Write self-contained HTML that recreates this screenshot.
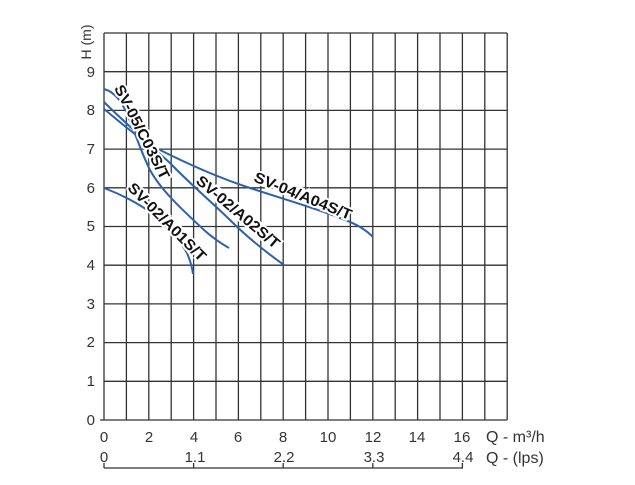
<!DOCTYPE html>
<html><head><meta charset="utf-8"><style>body{margin:0;background:#fff}svg{display:block}</style></head>
<body>
<svg width="635" height="485" xmlns="http://www.w3.org/2000/svg" font-family="Liberation Sans, sans-serif">
<rect width="635" height="485" fill="#fff"/>
<g stroke="#333" stroke-width="1.3" fill="none">
<path d="M104,33V420M126.4,33V420M148.8,33V420M171.2,33V420M193.6,33V420M216,33V420M238.4,33V420M260.8,33V420M283.2,33V420M305.6,33V420M328,33V420M350.4,33V420M372.8,33V420M395.2,33V420M417.6,33V420M440,33V420M462.4,33V420M484.8,33V420M507.2,33V420"/>
<path d="M104,33H507.2M104,71.7H507.2M104,110.4H507.2M104,149.1H507.2M104,187.8H507.2M104,226.5H507.2M104,265.2H507.2M104,303.9H507.2M104,342.6H507.2M104,381.3H507.2M100,420H507.2"/>
<path d="M104,468H463M104,463V468M193.6,463V468M283.2,463V468M372.8,463V468M462.4,463V468"/>
</g>
<g stroke="#2a62b0" stroke-width="2" fill="none">
<path d="M104,89 C115,92 122,102 128,116 C136,135 141,152 150,170 C162,192 185,212 204,230 C214,239 222,244 229,248"/>
<path d="M104,102 C120,118 150,145 170,163 C190,184 215,205 230,220 C250,240 270,255 284,265"/>
<path d="M104,109 C120,122 140,140 160,150 C190,165 220,178 247,187 C280,198 315,208 340,218 C357,224 366,230 373,237"/>
<path d="M104,188 C120,194 140,204 157,217 C170,229 182,244 187,253 C190,260 192,266 193,274"/>
</g>
<g font-weight="bold" font-size="15" fill="#111" stroke="#fff" stroke-width="4" paint-order="stroke" text-anchor="middle" lengthAdjust="spacingAndGlyphs">
<text transform="translate(142,132) rotate(63)" dy="5" textLength="104" lengthAdjust="spacingAndGlyphs">SV-05/C03S/T</text>
<text transform="translate(238,212) rotate(40)" dy="5" textLength="104" lengthAdjust="spacingAndGlyphs">SV-02/A02S/T</text>
<text transform="translate(303,196) rotate(22)" dy="5" textLength="104" lengthAdjust="spacingAndGlyphs">SV-04/A04S/T</text>
<text transform="translate(167,222) rotate(45)" dy="5" textLength="104" lengthAdjust="spacingAndGlyphs">SV-02/A01S/T</text>
</g>
<g font-size="15" fill="#333" text-anchor="end">
<text x="95" y="425">0</text><text x="95" y="386">1</text><text x="95" y="347">2</text><text x="95" y="309">3</text><text x="95" y="270">4</text><text x="95" y="231">5</text><text x="95" y="193">6</text><text x="95" y="154">7</text><text x="95" y="115">8</text><text x="95" y="77">9</text>
</g>
<text transform="translate(91,42) rotate(-90)" font-size="14" fill="#333" text-anchor="middle">H (m)</text>
<g font-size="15" fill="#333" text-anchor="middle">
<text x="104" y="442">0</text><text x="149" y="442">2</text><text x="194" y="442">4</text><text x="238" y="442">6</text><text x="283" y="442">8</text><text x="328" y="442">10</text><text x="373" y="442">12</text><text x="417" y="442">14</text><text x="462" y="442">16</text>
<text x="104" y="462">0</text><text x="195" y="462">1.1</text><text x="284" y="462">2.2</text><text x="374" y="462">3.3</text><text x="463" y="462">4.4</text>
</g>
<g font-size="16" fill="#333">
<text x="486" y="442">Q - m³/h</text>
<text x="486" y="463">Q - (lps)</text>
</g>
</svg>
</body></html>
